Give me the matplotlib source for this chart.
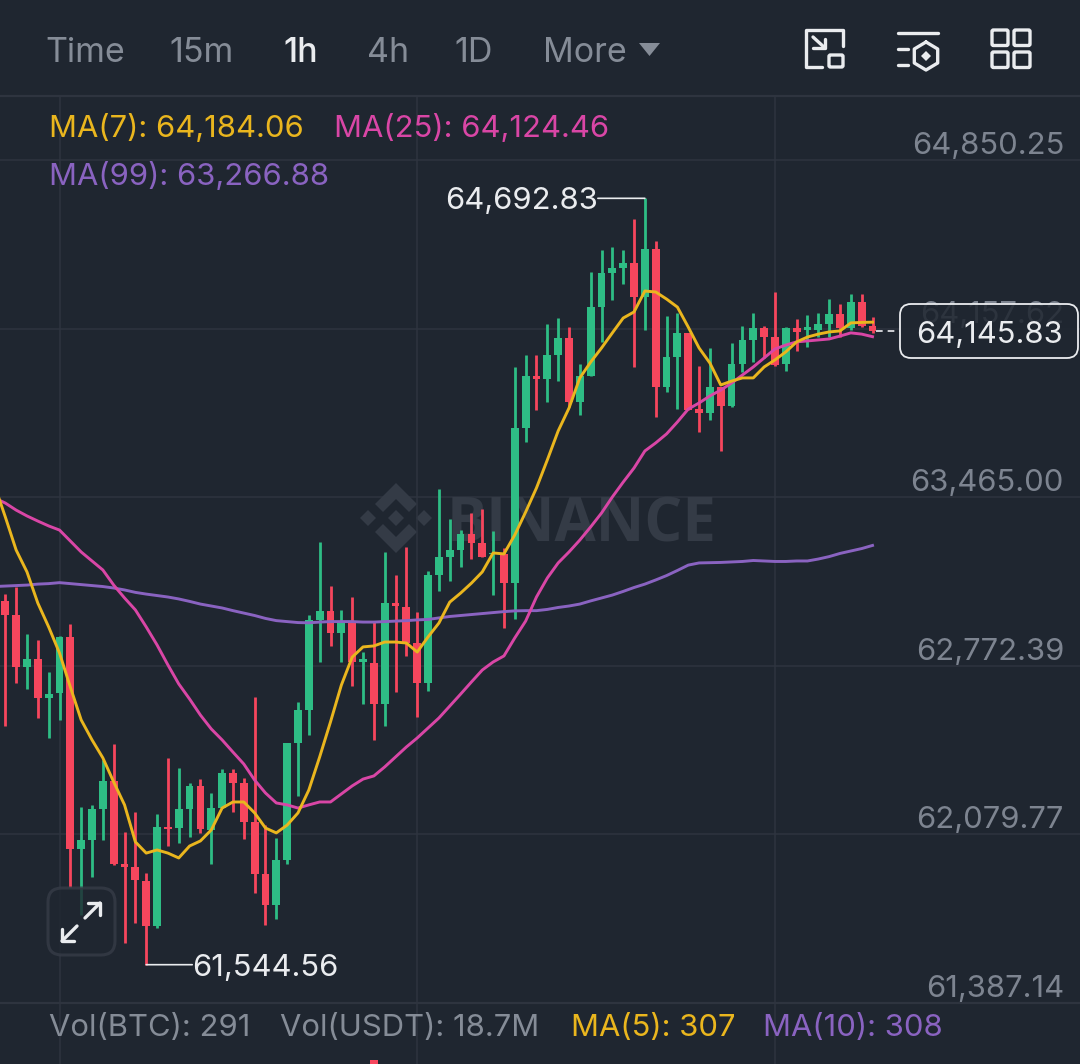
import matplotlib
matplotlib.use("Agg")
import matplotlib.pyplot as plt
import numpy as np
from matplotlib.patches import FancyBboxPatch, Polygon

plt.rcParams['font.family'] = ['Inter', 'DejaVu Sans']

# candles, one hour each, last one is the running one
opens = [63040,62981,62766,62800,62639,62659,62890,62020,62057,62184,62299,61958,61945,61890,61705,62111,62105,62184,62279,62098,
         62187,62331,62292,62132,61916,61790,61975,62454,62591,62961,62999,62906,62954,62787,62785,62615,63029,63015,62865,62700,
         63144,63221,63248,63314,63276,63232,63232,63114,63751,63963,63949,64049,64118,63855,63963,64248,64385,64408,64426,64286,
         64485,63917,64040,64138,63826,63812,63917,63841,64012,64111,64161,64124,64012,64159,64152,64152,64176,64218,64159,64266,
         64168]
closes = [62981,62766,62800,62639,62656,62890,62020,62057,62184,62299,61957,61947,61892,61705,62111,62102,62184,62279,62101,62187,
          62331,62292,62132,61916,61790,61975,62454,62591,62961,62999,62906,62954,62789,62799,62615,63029,63018,62865,62700,63144,
          63221,63248,63314,63276,63221,63236,63114,63751,63963,63949,64049,64118,63855,63963,64248,64385,64408,64426,64286,64485,
          63917,64040,64138,63823,63812,63917,63841,64012,64111,64161,64124,64008,64159,64145,64163,64176,64218,64159,64266,64168,
          64145.83]
highs = [63067,63095,62903,62878,62747,62895,62943,62191,62201,62385,62451,62088,62173,61922,62164,62395,62351,62292,62307,62251,
         62350,62347,62310,62643,62118,62064,62455,62625,62981,63282,63100,63002,63056,62828,62954,63239,63145,63262,62995,63163,
         63500,63375,63330,63399,63417,63326,63256,63999,64049,64049,64177,64200,64163,64012,64391,64481,64494,64481,64608,64692.83,
         64518,64209,64221,64140,64004,64077,63919,64100,64170,64223,64168,64309,64165,64196,64214,64223,64278,64257,64298,64298,
         64204]
lows = [62525,62700,62676,62558,62477,62550,61862,61749,61903,62057,61954,61632,61715,61544.56,61694,62033,62046,62070,62084,61957,
        62187,62173,62060,61838,61708,61731,61958,62238,62488,62789,62855,62787,62689,62615,62467,62525,62666,62813,62561,62670,
        63081,63121,63180,63210,63221,63063,62926,62963,63693,63823,63857,63944,63836,63803,63963,64101,64275,64341,63999,64152,
        63793,63898,63826,63823,63734,63782,63656,63837,63980,64022,64037,64004,63985,64067,64081,64124,64124,64124,64152,64163,
        64141]

# moving averages, first value sits one candle left of the screen
ma7 = [63515,63384,63248,63158,63030,62932,62825,62685,62550,62468,62394,62295,62201,62049,62003,62016,62003,61983,62032,62053,
       62098,62188,62213,62213,62168,62106,62086,62118,62168,62262,62398,62542,62693,62808,62850,62854,62870,62870,62866,62829,
       62891,62948,63034,63071,63112,63158,63236,63232,63310,63404,63503,63618,63737,63831,63955,64020,64078,64140,64201,64226,
       64312,64308,64279,64246,64164,64078,64016,63926,63942,63955,63955,64000,64029,64062,64103,64123,64135,64144,64148,64181,
       64183,64184.06]
ma25 = [63462,63441,63412,63388,63367,63347,63330,63285,63240,63203,63166,63104,63051,63002,62932,62858,62776,62698,62636,62570,
        62513,62468,62418,62369,62303,62250,62209,62201,62188,62201,62213,62213,62246,62279,62307,62320,62357,62398,62439,62476,
        62517,62558,62607,62656,62706,62755,62788,62813,62887,62956,63055,63133,63195,63240,63289,63343,63400,63466,63527,63585,
        63655,63688,63725,63774,63827,63852,63881,63905,63934,63967,64000,64037,64074,64090,64103,64107,64111,64115,64127,64140,
        64135,64124.46]
ma99 = [63098,63100,63102,63104,63108,63110,63114,63110,63106,63102,63098,63092,63084,63074,63067,63061,63055,63047,63037,63026,
        63018,63010,62999,62989,62979,62967,62958,62954,62950,62949,62952,62954,62954,62954,62952,62952,62954,62956,62958,62961,
        62963,62969,62975,62979,62983,62987,62991,62995,62998,62999,62999,63004,63012,63018,63026,63039,63051,63063,63078,63094,
        63108,63125,63143,63164,63186,63195,63196,63197,63199,63201,63205,63203,63201,63201,63203,63203,63211,63221,63234,63244,
        63254,63266.88]

price_ticks = [64850.25, 64157.62, 63465.00, 62772.39, 62079.77, 61387.14]
price_labels = ['64,850.25', '64,157.62', '63,465.00', '62,772.39', '62,079.77', '61,387.14']
vgrid_candles = [5, 38, 71]
vol_candles = [34]
vol_values = [66]

BG = '#1f2630'
GRID = '#2e343f'
GREEN = '#2ebd85'
RED = '#f6465d'
YELLOW = '#eab61e'
PINK = '#d946a6'
PURPLE = '#8a63c1'
GREY = '#858c97'
AXIS_GREY = '#7d8490'
WHITE = '#eaecef'
FS = 22.3

fig = plt.figure(figsize=(10.8, 10.64), dpi=100, facecolor=BG)

# layer under the candles, in screen pixels
under = fig.add_axes([0, 0, 1, 1], zorder=0)
under.set_xlim(0, 1080)
under.set_ylim(1064, 0)
under.axis('off')

# main chart
ax = fig.add_axes([0, 0, 1, 1], zorder=1)
ax.patch.set_visible(False)
ax.set_xlim(-0.489, 99.14)
ax.set_ylim(61136.6, 65507.5)
ax.axis('off')

# ui on top
ui = fig.add_axes([0, 0, 1, 1], zorder=3)
ui.patch.set_visible(False)
ui.set_xlim(0, 1080)
ui.set_ylim(1064, 0)
ui.axis('off')

# grid
for p in price_ticks:
    under.plot([0, 1080], [(65507.5 - p) / 4.108] * 2, color=GRID, lw=1.1, zorder=1)
under.plot([0, 1080], [96, 96], color=GRID, lw=1.6, zorder=1)
under.plot([0, 1080], [1003, 1003], color=GRID, lw=1.6, zorder=1)
for c in vgrid_candles:
    ax.plot([c, c], [61136.6, 65110], color=GRID, lw=1.1, zorder=1)

# watermark
wm = '#343b46'
cx, cy = 396, 518
for dx, dy, r in [(0, 0, 8), (-28, 0, 8), (28, 0, 8)]:
    under.add_patch(Polygon([(cx + dx - r, cy + dy), (cx + dx, cy + dy - r), (cx + dx + r, cy + dy), (cx + dx, cy + dy + r)],
                            facecolor=wm, edgecolor='none', zorder=2))
for s in (1, -1):
    chev = [(0, 35), (21, 14), (13, 6), (0, 19), (-13, 6), (-21, 14)]
    under.add_patch(Polygon([(cx + a, cy - s * b) for a, b in chev], facecolor=wm, edgecolor='none', zorder=2))
under.text(447, 518, 'BINANCE', color=wm, fontsize=43, fontweight='bold', family=['Open Sans', 'DejaVu Sans'],
           va='center_baseline', ha='left', zorder=2)

# candles
x = np.arange(len(opens))
opens = np.array(opens)
closes = np.array(closes)
colors = [GREEN if c >= o else RED for o, c in zip(opens, closes)]
ax.vlines(x, lows, highs, colors=colors, lw=2, zorder=3)
ax.bar(x, np.abs(closes - opens), bottom=np.minimum(opens, closes), width=0.72, color=colors, zorder=3)

# moving averages
ma_x = np.arange(-1, len(ma7) - 1)
ax.plot(ma_x, ma99, color=PURPLE, lw=2.1, zorder=4)
ax.plot(ma_x, ma25, color=PINK, lw=2.1, zorder=5)
ax.plot(ma_x, ma7, color=YELLOW, lw=2.1, zorder=6)

# price scale
for p, lab in zip(price_ticks, price_labels):
    ax.annotate(lab, xy=(1064 / 1080, p), xycoords=ax.get_yaxis_transform(), xytext=(0, 14), textcoords='offset pixels',
                ha='right', va='center', color=AXIS_GREY, fontsize=FS, zorder=2)

# volume pane, only the tallest bar reaches above the crop
vol = fig.add_axes([0, 0, 1, 61 / 1064], zorder=2)
vol.patch.set_visible(False)
vol.set_xlim(-0.489, 99.14)
vol.set_ylim(0, 1000)
vol.axis('off')
vol.bar(vol_candles, vol_values, width=0.72, color=RED)

# high / low markers
leader = dict(arrowstyle='-', color=WHITE, lw=1.2, shrinkA=0, shrinkB=0)
ax.annotate('', xy=(59, 64692.83), xytext=(-47, 0), textcoords='offset pixels', arrowprops=leader, zorder=7)
ax.annotate('64,692.83', xy=(59, 64692.83), xytext=(-47, -3), textcoords='offset pixels', color=WHITE, fontsize=FS,
            ha='right', va='center', zorder=7)
ax.annotate('', xy=(13, 61544.56), xytext=(46, 0), textcoords='offset pixels', arrowprops=leader, zorder=7)
ax.annotate('61,544.56', xy=(13, 61544.56), xytext=(46, -3), textcoords='offset pixels', color=WHITE, fontsize=FS,
            ha='left', va='center', zorder=7)

# tabs
tab_names = ['Time', '15m', '1h', '4h', '1D', 'More']
tab_x = [45, 169, 283, 367, 454, 543]
for name, tx in zip(tab_names, tab_x):
    ui.text(tx, 53, name, color=WHITE if name == '1h' else GREY, fontsize=24.5, va='center', ha='left',
            fontweight='medium' if name == '1h' else 'normal')
ui.add_patch(Polygon([(639, 43), (660, 43), (649.5, 56)], facecolor=GREY, edgecolor='none'))

# toolbar icons
ic = dict(color=WHITE, lw=2.4, solid_capstyle='round', solid_joinstyle='round')
ui.plot([843, 843, 806, 806, 822], [46, 30, 30, 67, 67], **ic)
ui.add_patch(FancyBboxPatch((829, 55), 14, 12, boxstyle='round,pad=0,rounding_size=1.5', fc='none', ec=WHITE, lw=2.4))
ui.plot([813, 825], [37, 48], **ic)
ui.plot([813, 825, 825], [48, 48, 39], **ic)
ui.plot([898, 938], [33, 33], **ic)
ui.plot([898, 908], [49, 49], **ic)
ui.plot([898, 908], [65, 65], **ic)
ang = np.deg2rad(np.arange(90, 451, 60))
ui.plot(926 + 13.5 * np.cos(ang), 56 - 14 * np.sin(ang), **ic)
ui.add_patch(Polygon([(921, 56), (926, 51), (931, 56), (926, 61)], facecolor=WHITE, edgecolor='none'))
for sx in (992, 1014):
    for sy in (30, 52):
        ui.add_patch(FancyBboxPatch((sx, sy), 16, 15.5, boxstyle='round,pad=0,rounding_size=1.5', fc='none', ec=WHITE, lw=2.4))

# legends
ui.text(49, 128, 'MA(7): 64,184.06', color=YELLOW, fontsize=FS, va='center', ha='left')
ui.text(334, 128, 'MA(25): 64,124.46', color=PINK, fontsize=FS, va='center', ha='left')
ui.text(49, 176, 'MA(99): 63,266.88', color=PURPLE, fontsize=FS, va='center', ha='left')
ui.text(49, 1028, 'Vol(BTC): 291', color=GREY, fontsize=FS, va='center', ha='left')
ui.text(280, 1028, 'Vol(USDT): 18.7M', color=GREY, fontsize=FS, va='center', ha='left')
ui.text(571, 1028, 'MA(5): 307', color=YELLOW, fontsize=FS, va='center', ha='left')
ui.text(763, 1028, 'MA(10): 308', color=PURPLE, fontsize=FS, va='center', ha='left')

# last price tag
ui.plot([876, 900], [331, 331], color=WHITE, lw=1.2, ls=(0, (4, 3)))
ui.add_patch(FancyBboxPatch((900, 304), 178, 54, boxstyle='round,pad=0,rounding_size=11', fc=BG, ec='none', alpha=0.85))
ui.add_patch(FancyBboxPatch((900, 304), 178, 54, boxstyle='round,pad=0,rounding_size=11', fc='none', ec=WHITE, lw=1.3))
ui.text(989.5, 335, '64,145.83', color=WHITE, fontsize=FS, va='center', ha='center')

# expand button
ui.add_patch(FancyBboxPatch((48, 888), 67, 67, boxstyle='round,pad=0,rounding_size=14', fc=BG, ec='#363c47', lw=2.2, alpha=0.8))
ui.plot([77, 62], [926, 941], **ic)
ui.plot([62, 62, 74], [929, 941, 941], **ic)
ui.plot([85, 100], [918, 903], **ic)
ui.plot([88, 100, 100], [903, 903, 915], **ic)

fig.savefig('out.png', dpi=100, facecolor=BG)
